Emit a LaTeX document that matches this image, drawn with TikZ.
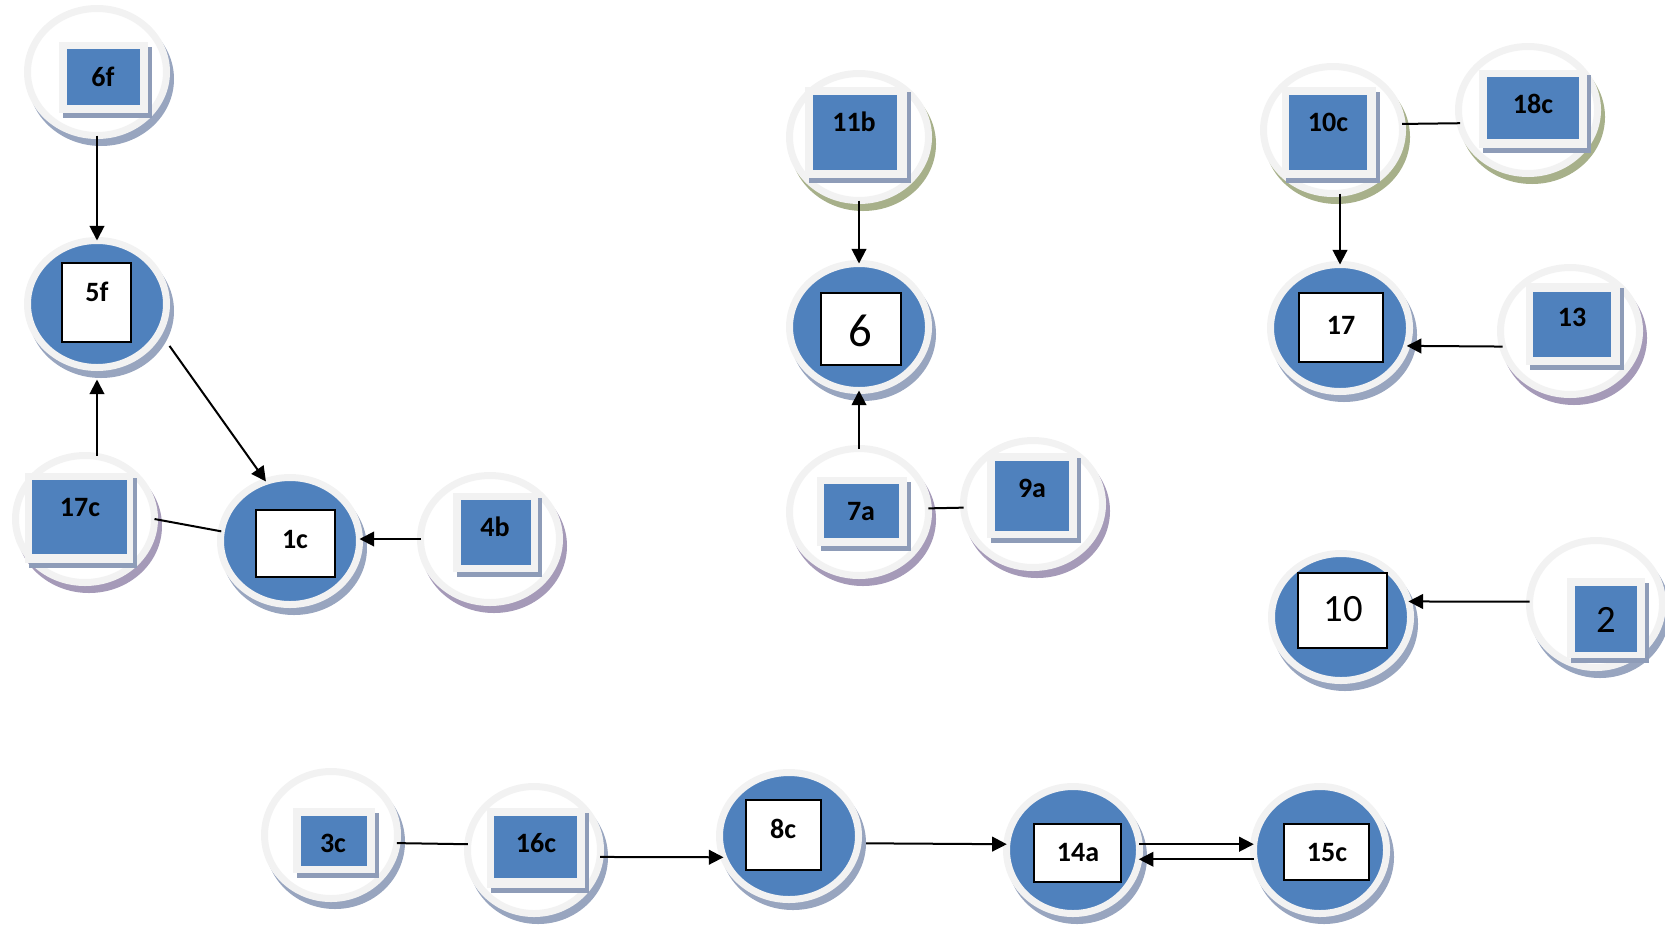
\documentclass[tikz,border=0pt]{standalone}
\usepackage{fontspec}
\setmainfont{Carlito}
\usetikzlibrary{shapes.geometric,arrows.meta}

\definecolor{nodeblue}{HTML}{4F81BD}
\definecolor{ringgray}{HTML}{F2F2F2}
\definecolor{shblue}{HTML}{98A5BF}
\definecolor{shgreen}{HTML}{A7B08A}
\definecolor{shpurple}{HTML}{A59AB8}
\definecolor{shbox}{HTML}{8E9CB8}

\tikzset{every picture/.style={line width=0.75pt}}
\tikzset{
  ring/.style={ellipse, draw=ringgray, line width=5.25pt, inner sep=0pt, outer sep=0pt,
    minimum width=104.25pt, minimum height=95.25pt},
  openring/.style={ring, fill=white},
  fullring/.style={ring, fill=nodeblue},
  narrow/.style={minimum width=99.75pt},
  wbox/.style={fill=white, draw=black, line width=1.5pt},
  lab/.style={inner sep=0pt, font=\fontsize{21}{24}\selectfont\bfseries},
  numlab/.style={inner sep=0pt, font=\fontsize{29}{32}\selectfont},
  arr/.style={line width=1.5pt, -{Triangle[length=11pt,width=11pt]}},
  link/.style={line width=1.5pt}
}

\begin{document}
\begin{tikzpicture}[x=0.75pt,y=0.75pt,yscale=-1,xscale=1]
\useasboundingbox (0,0) rectangle (1665,925);

%Shape: Ellipse 6f
\fill[shblue] (101,79) ellipse [x radius=73, y radius=67];
\node[openring] (n6f) at (97,72) {};
\fill[shbox] (63,47) rectangle (152,118);
\fill[ringgray] (59,42) rectangle (148,113);
\fill[nodeblue] (67,49) rectangle (140,105);
% Text Node
\node[lab] (t6f) at (103,77) {6f};

%Shape: Ellipse 5f
\fill[shblue] (101,311) ellipse [x radius=73, y radius=67];
\node[fullring] (n5f) at (97,304) {};
\draw[wbox] (62,263) rectangle (131,342);
% Text Node
\node[lab] (t5f) at (97,292) {5f};

%Shape: Ellipse 17c
\fill[shpurple] (89,526) ellipse [x radius=73, y radius=67];
\node[openring] (n17c) at (85,519) {};
\fill[shbox] (29,478) rectangle (137,568);
\fill[ringgray] (25,473) rectangle (133,563);
\fill[nodeblue] (32,480) rectangle (127,554);
% Text Node
\node[lab] (t17c) at (80,507) {17c};

%Shape: Ellipse 1c
\fill[shblue] (294,548) ellipse [x radius=73, y radius=67];
\node[fullring] (n1c) at (290,541) {};
\draw[wbox] (256,510) rectangle (335,577);
% Text Node
\node[lab] (t1c) at (295,539) {1c};

%Shape: Ellipse 4b
\fill[shpurple] (494,546) ellipse [x radius=73, y radius=67];
\node[openring] (n4b) at (490,539) {};
\fill[shbox] (457,498) rectangle (542,577);
\fill[ringgray] (453,493) rectangle (538,572);
\fill[nodeblue] (461,500) rectangle (531,565);
% Text Node
\node[lab] (t4b) at (495,527) {4b};

%Shape: Ellipse 11b
\fill[shgreen] (863,144) ellipse [x radius=73, y radius=67];
\node[openring] (n11b) at (859,137) {};
\fill[shbox] (809,92) rectangle (911,183);
\fill[ringgray] (805,87) rectangle (907,178);
\fill[nodeblue] (813,95) rectangle (897,170);
% Text Node
\node[lab] (t11b) at (854,122) {11b};

%Shape: Ellipse 6
\fill[shblue] (863,334) ellipse [x radius=73, y radius=67];
\node[fullring] (n6) at (859,327) {};
\draw[wbox] (821,293) rectangle (901,365);
% Text Node
\node[inner sep=0pt, font=\fontsize{35}{38}\selectfont] (t6) at (860,331) {6};

%Shape: Ellipse 7a
\fill[shpurple] (863,519) ellipse [x radius=73, y radius=67];
\node[openring] (n7a) at (859,512) {};
\fill[shbox] (821,482) rectangle (911,551);
\fill[ringgray] (817,477) rectangle (907,546);
\fill[nodeblue] (824,484) rectangle (899,538);
% Text Node
\node[lab] (t7a) at (861,512) {7a};

%Shape: Ellipse 9a
\fill[shpurple] (1037,511) ellipse [x radius=73, y radius=67];
\node[openring] (n9a) at (1033,504) {};
\fill[shbox] (991,458) rectangle (1081,543);
\fill[ringgray] (987,453) rectangle (1077,538);
\fill[nodeblue] (995,461) rectangle (1069,531);
% Text Node
\node[lab] (t9a) at (1032,488) {9a};

%Shape: Ellipse 10c
\fill[shgreen] (1337,137) ellipse [x radius=73, y radius=67];
\node[openring] (n10c) at (1333,130) {};
\fill[shbox] (1286,92) rectangle (1380,183);
\fill[ringgray] (1282,87) rectangle (1376,178);
\fill[nodeblue] (1289,95) rectangle (1367,170);
% Text Node
\node[lab] (t10c) at (1328,122) {10c};

%Shape: Ellipse 18c
\fill[shgreen] (1532,117) ellipse [x radius=73, y radius=67];
\node[openring] (n18c) at (1528,110) {};
\fill[shbox] (1483,75) rectangle (1591,153);
\fill[ringgray] (1479,70) rectangle (1587,148);
\fill[nodeblue] (1487,77) rectangle (1579,139);
% Text Node
\node[lab] (t18c) at (1533,104) {18c};

%Shape: Ellipse 17
\fill[shblue] (1344,335) ellipse [x radius=73, y radius=67];
\node[fullring] (n17) at (1340,328) {};
\draw[wbox] (1299,293) rectangle (1383,362);
% Text Node
\node[lab] (t17) at (1341,325) {17};

%Shape: Ellipse 13
\fill[shpurple] (1574,338) ellipse [x radius=73, y radius=67];
\node[openring] (n13) at (1570,331) {};
\fill[shbox] (1530,288) rectangle (1624,370);
\fill[ringgray] (1526,283) rectangle (1620,365);
\fill[nodeblue] (1533,292) rectangle (1611,357);
% Text Node
\node[lab] (t13) at (1572,317) {13};

%Shape: Ellipse 10
\fill[shblue] (1345,624) ellipse [x radius=73, y radius=67];
\node[fullring] (n10) at (1341,617) {};
\draw[wbox] (1298,573) rectangle (1387,648);
% Text Node
\node[numlab] (t10) at (1343,609) {10};

%Shape: Ellipse 2
\fill[shblue] (1600,611) ellipse [x radius=70, y radius=67];
\node[openring, narrow] (n2) at (1596,604) {};
\fill[shbox] (1571,583) rectangle (1649,663);
\fill[ringgray] (1567,578) rectangle (1645,658);
\fill[nodeblue] (1575,586) rectangle (1637,652);
% Text Node
\node[numlab] (t2) at (1606,620) {2};

%Shape: Ellipse 3c
\fill[shblue] (335,842) ellipse [x radius=70, y radius=67];
\node[openring, narrow] (n3c) at (331,835) {};
\fill[shbox] (297,813) rectangle (379,878);
\fill[ringgray] (293,808) rectangle (375,873);
\fill[nodeblue] (301,816) rectangle (367,866);
% Text Node
\node[lab] (t3c) at (333,843) {3c};

%Shape: Ellipse 16c
\fill[shblue] (538,857) ellipse [x radius=70, y radius=67];
\node[openring, narrow] (n16c) at (534,850) {};
\fill[shbox] (491,813) rectangle (589,893);
\fill[ringgray] (487,808) rectangle (585,888);
\fill[nodeblue] (494,816) rectangle (577,878);
% Text Node
\node[lab] (t16c) at (536,843) {16c};

%Shape: Ellipse 8c
\fill[shblue] (793,843) ellipse [x radius=73, y radius=67];
\node[fullring] (n8c) at (789,836) {};
\draw[wbox] (746,800) rectangle (821,870);
% Text Node
\node[lab] (t8c) at (783,829) {8c};

%Shape: Ellipse 14a
\fill[shblue] (1077,857) ellipse [x radius=70, y radius=67];
\node[fullring, narrow] (n14a) at (1073,850) {};
\draw[wbox] (1034,824) rectangle (1121,882);
% Text Node
\node[lab] (t14a) at (1078,852) {14a};

%Shape: Ellipse 15c
\fill[shblue] (1324,857) ellipse [x radius=70, y radius=67];
\node[fullring, narrow] (n15c) at (1320,850) {};
\draw[wbox] (1284,824) rectangle (1369,880);
% Text Node
\node[lab] (t15c) at (1327,852) {15c};

%Straight Lines
\draw[arr] (n6f.south) -- (n5f.north);
\draw[arr, shorten >=9pt] (n17c.north -| n5f.south) -- (n5f.south);
\draw[arr, shorten <=13pt] (n5f.-24) -- (n1c.112);
\draw[link] (n17c.0) -- (n1c.172);
\draw[arr] (n4b.west) -- (n4b.west -| n1c.east);
\draw[arr] (n11b.south) -- (n6.north);
\draw[arr] (n7a.north) -- (n6.south);
\draw[link] (n7a.3) -- (n9a.183);
\draw[arr] (n10c.south -| n17.north) -- (n17.north);
\draw[link] (n10c.5) -- (n18c.191);
\draw[arr] (n13.193) -- (n17.-15);
\draw[arr] (n2.178) -- (n10.13);
\draw[link] (n3c.-7) -- (n16c.175);
\draw[arr] (n16c.-6) -- (n8c.198);
\draw[arr, shorten <=6pt] (n8c.-6) -- (n14a.175);
\draw[arr] (n14a.5) -- (n15c.175);
\draw[arr] (n15c.188) -- (n14a.-8);

\end{tikzpicture}
\end{document}
